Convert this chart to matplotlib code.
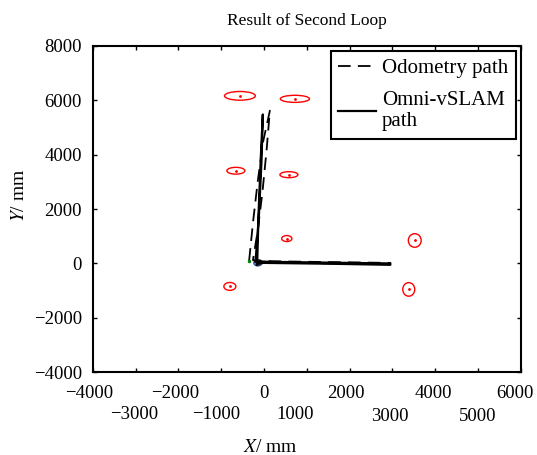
import matplotlib.pyplot as plt
from matplotlib.patches import Ellipse
from matplotlib.transforms import ScaledTranslation

# Trayectoria de odometría (discontinua)
odo_x = [-350, -260, -150, -20, 135, 60, -40, -150, -260, 200, 1500, 2950, 2900, 1500, 100, -200]
odo_y = [100, 1500, 3000, 4500, 5620, 4200, 2600, 1200, 120, 80, 50, 20, -30, 0, 40, 60]

# Trayectoria Omni-vSLAM (continua)
slam_x = [-200, -120, -60, -30, -80, -130, -160, 100, 1500, 2950, 2950, 1500, 0, -150]
slam_y = [60, 1800, 3800, 5480, 3800, 1800, 80, 60, 30, 0, -50, -10, 20, 0]

# Marcas (landmarks) con elipses de incertidumbre
lm_x = [-565, 720, -660, 580, 530, 3520, -800, 3380]
lm_y = [6165, 6055, 3410, 3265, 915, 845, -845, -955]
lm_w = [720, 680, 420, 420, 240, 300, 280, 280]
lm_h = [320, 260, 250, 220, 220, 500, 290, 500]

# Punto inicial
start_x, start_y = -145, 20

# Ticks
xticks_top = [-4000, -2000, 0, 2000, 4000, 6000]
xticks_bottom = [-3000, -1000, 1000, 3000, 5000]
yticks = [-4000, -2000, 0, 2000, 4000, 6000, 8000]


def fmt(v):
    return f'\u2212{abs(v)}' if v < 0 else str(v)


plt.rcParams['font.family'] = ['Liberation Serif', 'DejaVu Serif']
plt.rcParams['mathtext.fontset'] = 'stix'

fig = plt.figure(figsize=(5.37, 4.55), dpi=100)
ax = fig.add_axes([0.173, 0.182, 0.797, 0.717])

ax.plot(odo_x, odo_y, 'k--', linewidth=1.3, dashes=(7, 4), label='Odometry path')
ax.plot(slam_x, slam_y, 'k-', linewidth=1.6, label='Omni-vSLAM\npath')

for x, y, w, h in zip(lm_x, lm_y, lm_w, lm_h):
    ax.add_patch(Ellipse((x, y), w, h, fill=False, edgecolor='red', linewidth=1.0))
    ax.plot(x, y, '.', color='red', markersize=2)

ax.add_patch(Ellipse((start_x, start_y), 190, 220, facecolor='#9db0d8',
                     edgecolor='#3050a0', linewidth=1.0))
ax.plot(start_x, start_y, '>', color='k', markersize=3, markerfacecolor='none')
ax.plot(-350, 90, '.', color='green', markersize=3)

ax.set_xlim(-4000, 6000)
ax.set_ylim(-4000, 8000)

# Ticks del eje X en dos filas
ax.set_xticks(xticks_top)
ax.set_xticks(xticks_bottom, minor=True)
ax.set_xticklabels([fmt(v) for v in xticks_top])
ax.set_xticklabels([fmt(v) for v in xticks_bottom], minor=True)
ax.set_yticks(yticks)
ax.set_yticklabels([fmt(v) for v in yticks])

ax.tick_params(axis='both', which='both', direction='in', top=True, right=True,
               length=3, width=1.0, labelsize=13.5)
ax.tick_params(axis='x', which='major', pad=9)
ax.tick_params(axis='x', which='minor', pad=24)
ax.tick_params(axis='y', pad=8)

# Pequeños desplazamientos de las etiquetas (en píxeles)
top_dx = [-4, -3, 0, -4, -2, -6]
bot_dx = [-2, -5, -12, -3, 0]
bot_dy = [0, 0, 0, -2, -2]
fig.canvas.draw()
for lab, dx in zip(ax.get_xticklabels(), top_dx):
    lab.set_transform(lab.get_transform() + ScaledTranslation(dx / 100, 0, fig.dpi_scale_trans))
for lab, dx, dy in zip(ax.get_xticklabels(minor=True), bot_dx, bot_dy):
    lab.set_transform(lab.get_transform() + ScaledTranslation(dx / 100, dy / 100, fig.dpi_scale_trans))

for axis in ['top', 'bottom', 'left', 'right']:
    ax.spines[axis].set_linewidth(1.5)

ax.set_xlabel('$X$/ mm', fontsize=14)
ax.set_ylabel('$Y$/ mm', fontsize=14)
ax.xaxis.set_label_coords(0.414, -0.205)
ax.yaxis.set_label_coords(-0.152, 0.543)
ax.set_title('Result of Second Loop', fontsize=12.5, pad=15)

leg = ax.legend(loc='upper right', fontsize=15, frameon=True, fancybox=False,
                edgecolor='black', borderaxespad=0.25, handlelength=1.8,
                handletextpad=0.3, borderpad=0.35, labelspacing=0.6)
leg.get_frame().set_linewidth(1.5)
leg.get_frame().set_alpha(1)

fig.savefig('out.png', dpi=100)
